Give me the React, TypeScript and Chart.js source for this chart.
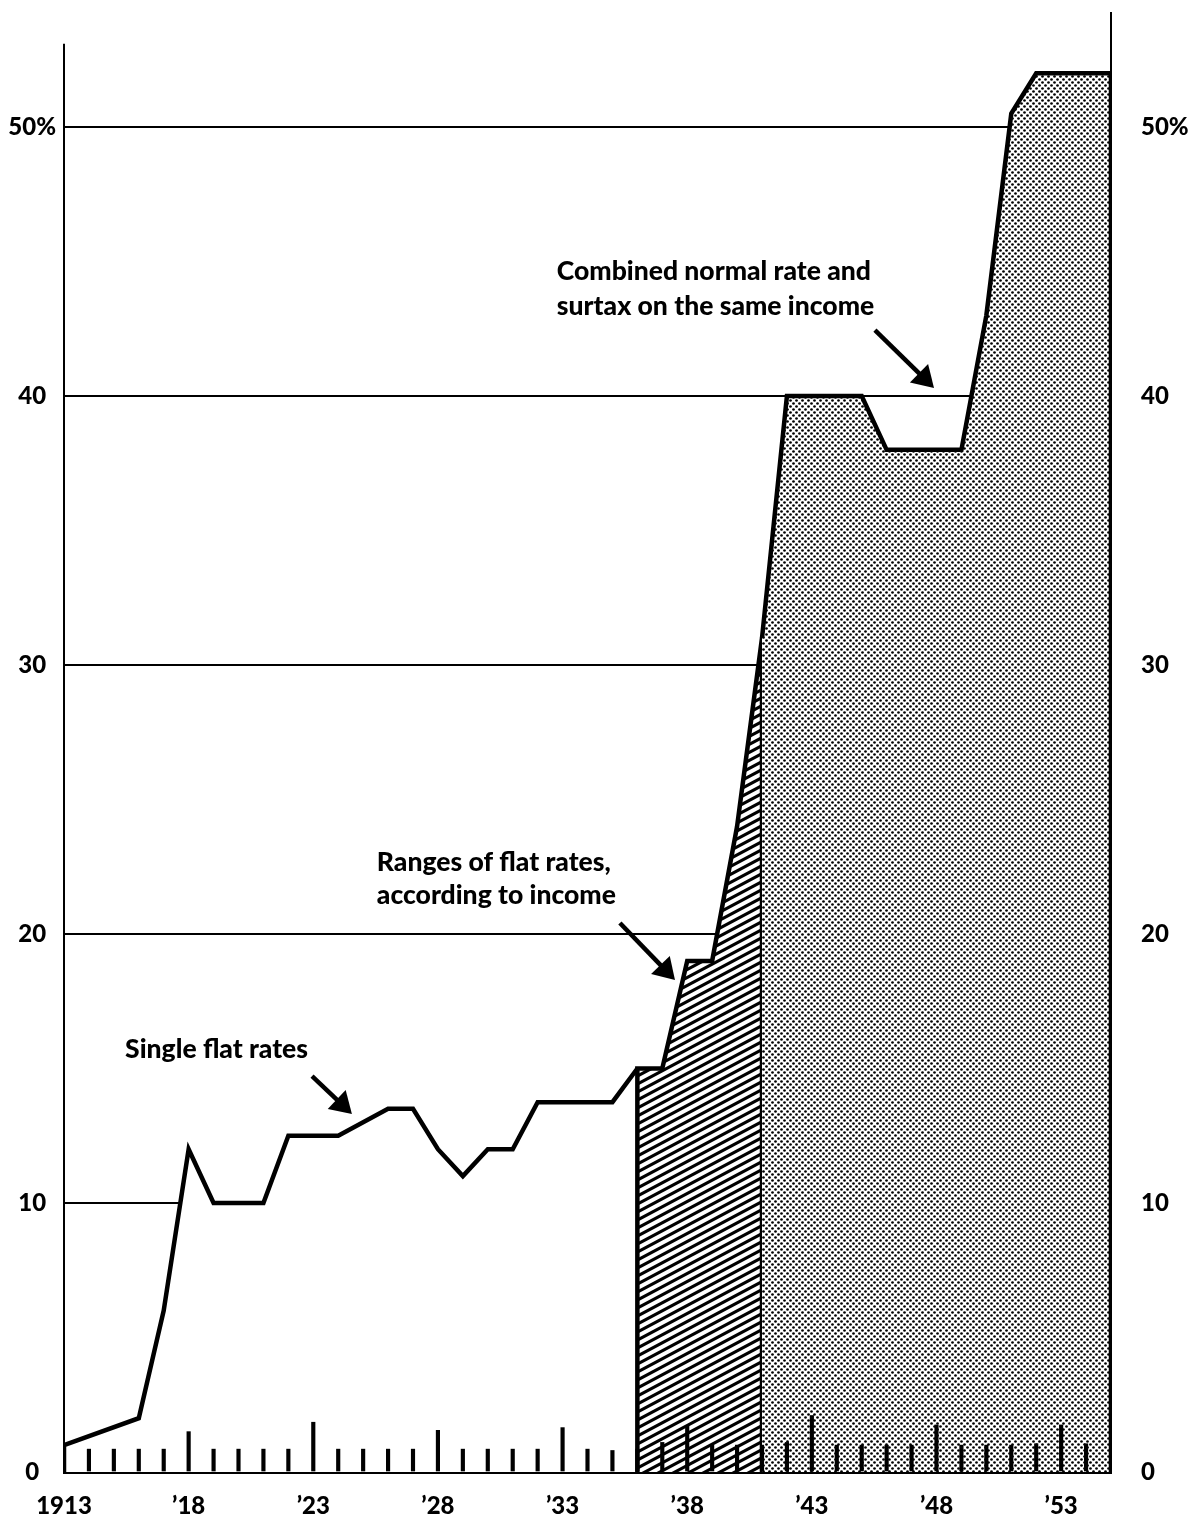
import React, { useEffect, useRef } from 'react';
import { Chart, registerables } from 'chart.js';

Chart.register(...registerables);

// ---- data ----
const SINGLE_YEARS = [1913, 1913, 1916, 1917, 1918, 1919, 1921, 1922, 1924, 1926, 1927, 1928, 1929, 1930, 1931, 1932, 1935, 1936];
const SINGLE_RATES = [0, 1, 2, 6, 12, 10, 10, 12.5, 12.5, 13.5, 13.5, 12, 11, 12, 12, 13.75, 13.75, 15];

const RANGE_YEARS = [1936, 1936, 1937, 1938, 1939, 1940, 1941, 1941];
const RANGE_RATES = [0, 15, 15, 19, 19, 24, 31, 0];

const COMBINED_YEARS = [1941, 1942, 1945, 1946, 1949, 1950, 1951, 1952, 1955, 1955];
const COMBINED_RATES = [31, 40, 40, 38, 38, 43, 50.5, 52, 52, 0];

const TICK_YEARS = [1914, 1915, 1916, 1917, 1918, 1919, 1920, 1921, 1922, 1923, 1924, 1925, 1926, 1927, 1928, 1929, 1930, 1931, 1932, 1933, 1934, 1935, 1936, 1937, 1938, 1939, 1940, 1941, 1942, 1943, 1944, 1945, 1946, 1947, 1948, 1949, 1950, 1951, 1952, 1953, 1954];
const TICK_HEIGHTS = [0.85, 0.85, 0.85, 0.85, 1.5, 0.85, 0.85, 0.85, 0.85, 1.85, 0.85, 0.85, 0.85, 0.85, 1.55, 0.85, 0.85, 0.85, 0.85, 1.65, 0.85, 0.8, 0.85, 1.1, 1.7, 1.0, 1.0, 1.0, 1.1, 2.1, 1.0, 1.0, 1.0, 1.0, 1.75, 1.0, 1.0, 1.0, 1.05, 1.75, 1.05];

const X_TICKS = [1913, 1918, 1923, 1928, 1933, 1938, 1943, 1948, 1953];
const X_LABELS = ['1913', '\u201918', '\u201923', '\u201928', '\u201933', '\u201938', '\u201943', '\u201948', '\u201953'];
const Y_TICKS = [0, 10, 20, 30, 40, 50];
const Y_LABELS = ['0', '10', '20', '30', '40', '50%'];

const NOTE_TEXTS = [
  ['Single flat rates'],
  ['Ranges of flat rates,', 'according to income'],
  ['Combined normal rate and', 'surtax on the same income'],
];
const NOTE_X = [1915.45, 1925.55, 1932.77];
const NOTE_Y = [[15.39], [22.34, 21.12], [44.3, 43.0]];
const ARROW_FROM = [[1922.95, 14.72], [1935.3, 20.41], [1945.53, 42.45]];
const ARROW_TO = [[1924.55, 13.31], [1937.51, 18.29], [1947.9, 40.3]];

const X_MIN = 1913;
const X_MAX = 1955;
const Y_MAX = 54.24;
const LEFT_AXIS_TOP = 53.1;

const FONT = 'Lato, "Noto Sans", sans-serif';

function makeHatch(): CanvasPattern | string {
  const W = 30, H = 16;
  const c = document.createElement('canvas');
  c.width = W; c.height = H;
  const g = c.getContext('2d');
  if (!g) return '#888';
  g.fillStyle = '#fff';
  g.fillRect(0, 0, W, H);
  g.strokeStyle = '#000';
  g.lineWidth = 3.1;
  for (let k = -3; k <= 3; k++) {
    const c0 = H + k * (H / 2);
    g.beginPath();
    g.moveTo(-W, c0 + H);
    g.lineTo(2 * W, c0 - 2 * H);
    g.stroke();
  }
  return g.createPattern(c, 'repeat') || '#888';
}

function makeStipple(): CanvasPattern | string {
  const S = 6;
  const c = document.createElement('canvas');
  c.width = S; c.height = S;
  const g = c.getContext('2d');
  if (!g) return '#bbb';
  g.fillStyle = '#fff';
  g.fillRect(0, 0, S, S);
  g.fillStyle = '#000';
  const dots = [[1.5, 1.5], [4.5, 4.5]];
  for (const [dx, dy] of dots) {
    g.beginPath();
    g.arc(dx, dy, 1.35, 0, Math.PI * 2);
    g.fill();
  }
  return g.createPattern(c, 'repeat') || '#bbb';
}

const overlayPlugin = {
  id: 'overlay',
  afterDatasetsDraw(chart: any) {
    const { ctx } = chart;
    const x = chart.scales.x;
    const y = chart.scales.y;
    ctx.save();
    // left axis line
    ctx.strokeStyle = '#000';
    ctx.lineWidth = 2;
    const lx = x.getPixelForValue(X_MIN);
    ctx.beginPath();
    ctx.moveTo(lx, y.getPixelForValue(0));
    ctx.lineTo(lx, y.getPixelForValue(LEFT_AXIS_TOP));
    ctx.stroke();

    // notes
    ctx.fillStyle = '#000';
    ctx.font = `900 26.5px ${FONT}`;
    ctx.textAlign = 'left';
    ctx.textBaseline = 'alphabetic';
    NOTE_TEXTS.forEach((lines, i) => {
      lines.forEach((t, j) => {
        ctx.fillText(t, x.getPixelForValue(NOTE_X[i]), y.getPixelForValue(NOTE_Y[i][j]));
      });
    });

    // arrows
    ARROW_FROM.forEach((from, i) => {
      const to = ARROW_TO[i];
      const x0 = x.getPixelForValue(from[0]);
      const y0 = y.getPixelForValue(from[1]);
      const x1 = x.getPixelForValue(to[0]);
      const y1 = y.getPixelForValue(to[1]);
      const dx = x1 - x0, dy = y1 - y0;
      const len = Math.hypot(dx, dy);
      const ux = dx / len, uy = dy / len;
      const headLen = 21, headW = 13;
      const bx = x1 - ux * headLen, by = y1 - uy * headLen;
      ctx.lineWidth = 4.5;
      ctx.lineCap = 'butt';
      ctx.beginPath();
      ctx.moveTo(x0, y0);
      ctx.lineTo(bx + ux * 2, by + uy * 2);
      ctx.stroke();
      ctx.beginPath();
      ctx.moveTo(x1, y1);
      ctx.lineTo(bx - uy * headW, by + ux * headW);
      ctx.lineTo(bx + uy * headW, by - ux * headW);
      ctx.closePath();
      ctx.fill();
    });
    ctx.restore();
  },
};

function zeroPad(s: any) {
  s.paddingTop = 0;
  s.paddingBottom = 0;
  s.paddingLeft = 0;
  s.paddingRight = 0;
}

export default function App() {
  const ref = useRef<HTMLCanvasElement | null>(null);

  useEffect(() => {
    const canvas = ref.current;
    if (!canvas) return;
    const hatch = makeHatch();
    const stipple = makeStipple();
    const lineCommon = {
      type: 'line' as const,
      borderColor: '#000',
      borderWidth: 4.5,
      pointRadius: 0,
      tension: 0,
      fill: 'origin',
      borderJoinStyle: 'miter' as const,
      borderCapStyle: 'butt' as const,
    };
    const labelFont = { family: FONT, size: 24, weight: '900' };
    const chart = new Chart(canvas, {
      type: 'line',
      data: {
        datasets: [
          {
            ...lineCommon,
            label: 'Single flat rates',
            data: SINGLE_YEARS.map((yr, i) => ({ x: yr, y: SINGLE_RATES[i] })),
            backgroundColor: '#ffffff',
            order: 3,
          },
          {
            ...lineCommon,
            label: 'Ranges of flat rates',
            data: RANGE_YEARS.map((yr, i) => ({ x: yr, y: RANGE_RATES[i] })),
            backgroundColor: hatch as any,
            order: 2,
          },
          {
            ...lineCommon,
            label: 'Combined normal rate and surtax',
            data: COMBINED_YEARS.map((yr, i) => ({ x: yr, y: COMBINED_RATES[i] })),
            backgroundColor: stipple as any,
            order: 1,
          },
          {
            type: 'bar' as const,
            label: 'year ticks',
            data: TICK_YEARS.map((yr, i) => ({ x: yr, y: TICK_HEIGHTS[i] })),
            backgroundColor: '#000',
            borderWidth: 0,
            barThickness: 3.5,
            grouped: false,
            order: 0,
          } as any,
        ],
      },
      options: {
        animation: false,
        responsive: false,
        maintainAspectRatio: false,
        layout: { padding: { top: 13, left: 0, right: 0, bottom: 0 } },
        plugins: {
          legend: { display: false },
          tooltip: { enabled: false },
          filler: { propagate: false },
        },
        scales: {
          x: {
            type: 'linear',
            min: X_MIN,
            max: X_MAX,
            offset: false,
            afterBuildTicks: (s: any) => {
              s.ticks = X_TICKS.map((v) => ({ value: v }));
            },
            afterFit: (s: any) => {
              s.height = 47;
              zeroPad(s);
            },
            ticks: {
              autoSkip: false,
              maxRotation: 0,
              padding: 20,
              color: '#000',
              font: labelFont,
              callback: (v: any) => {
                const i = X_TICKS.indexOf(Number(v));
                return i >= 0 ? X_LABELS[i] : '';
              },
            },
            grid: { display: false, drawTicks: false },
            border: { display: true, color: '#000', width: 3 },
          },
          y: {
            type: 'linear',
            position: 'left',
            min: 0,
            max: Y_MAX,
            afterBuildTicks: (s: any) => {
              s.ticks = Y_TICKS.map((v) => ({ value: v }));
            },
            afterFit: (s: any) => {
              s.width = 64;
              zeroPad(s);
            },
            ticks: {
              crossAlign: 'center',
              padding: 8,
              color: '#000',
              font: labelFont,
              callback: (v: any) => {
                const i = Y_TICKS.indexOf(Number(v));
                return i >= 0 ? Y_LABELS[i] : '';
              },
            },
            grid: {
              drawTicks: false,
              lineWidth: 2,
              color: (c: any) => (c.tick && c.tick.value === 0 ? 'rgba(0,0,0,0)' : '#000'),
            },
            border: { display: false },
          },
          y2: {
            type: 'linear',
            position: 'right',
            min: 0,
            max: Y_MAX,
            afterBuildTicks: (s: any) => {
              s.ticks = Y_TICKS.map((v) => ({ value: v }));
            },
            afterFit: (s: any) => {
              s.width = 82;
              zeroPad(s);
            },
            ticks: {
              padding: 30,
              color: '#000',
              font: labelFont,
              callback: (v: any) => {
                const i = Y_TICKS.indexOf(Number(v));
                return i >= 0 ? Y_LABELS[i] : '';
              },
            },
            grid: { display: false, drawTicks: false },
            border: { display: true, color: '#000', width: 2 },
          },
        },
      } as any,
      plugins: [overlayPlugin],
    });
    return () => chart.destroy();
  }, []);

  return (
    <div style={{ position: 'absolute', left: 0, top: 0, width: 1193, height: 1519, background: '#fff' }}>
      <canvas ref={ref} width={1193} height={1519} style={{ width: 1193, height: 1519, display: 'block' }} />
    </div>
  );
}
